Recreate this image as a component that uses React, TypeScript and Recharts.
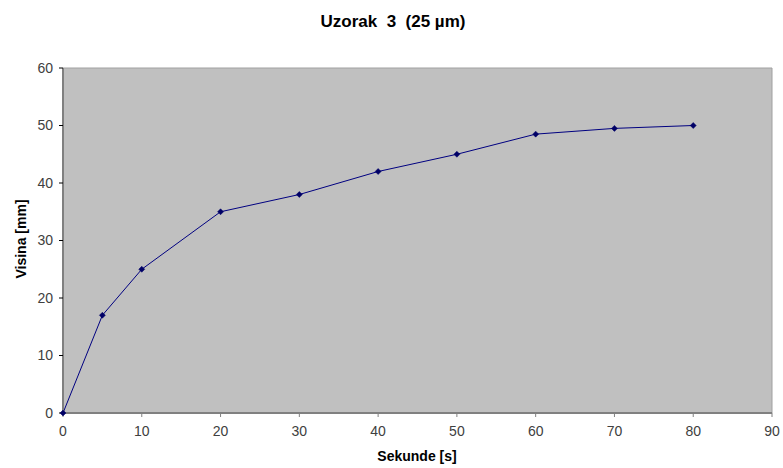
import { Line, LineChart, ReferenceArea, XAxis, YAxis } from "recharts";

const seconds = [0, 5, 10, 20, 30, 40, 50, 60, 70, 80];
const heights = [0, 17, 25, 35, 38, 42, 45, 48.5, 49.5, 50];
const xTicks = [0, 10, 20, 30, 40, 50, 60, 70, 80, 90];
const yTicks = [0, 10, 20, 30, 40, 50, 60];

const data = seconds.map((s, i) => ({ s, h: heights[i] }));

const font = "'Liberation Sans', Arial, sans-serif";
const axisColor = "#808080";
const tickStyle = { fill: "#404040", fontSize: 14, fontFamily: font };

const Diamond = (props: any) => {
  const { cx, cy, index } = props;
  if (cx == null || cy == null) return null;
  const r = 3;
  return (
    <polygon
      key={index}
      points={`${cx},${cy - r} ${cx + r},${cy} ${cx},${cy + r} ${cx - r},${cy}`}
      fill="#000066"
      stroke="#000066"
      strokeWidth={0.5}
    />
  );
};

export default function App() {
  return (
    <div style={{ position: "absolute", left: 0, top: 0, width: 783, height: 468, background: "#fff" }}>
      <div
        style={{
          position: "absolute",
          left: 0,
          top: 12,
          width: 786,
          textAlign: "center",
          fontFamily: font,
          fontWeight: "bold",
          fontSize: 17,
          color: "#000",
          whiteSpace: "pre",
        }}
      >
        {"Uzorak  3  (25 µm)"}
      </div>
      <div
        style={{
          position: "absolute",
          left: 21,
          top: 239,
          transform: "translate(-50%, -50%) rotate(-90deg)",
          fontFamily: font,
          fontWeight: "bold",
          fontSize: 14,
          color: "#000",
          whiteSpace: "nowrap",
        }}
      >
        Visina [mm]
      </div>
      <div
        style={{
          position: "absolute",
          left: 417,
          top: 456,
          transform: "translate(-50%, -50%)",
          fontFamily: font,
          fontWeight: "bold",
          fontSize: 14,
          color: "#000",
          whiteSpace: "nowrap",
        }}
      >
        Sekunde [s]
      </div>
      <LineChart
        width={783}
        height={468}
        data={data}
        margin={{ top: 68, right: 11, left: 13, bottom: 25 }}
        style={{ position: "absolute", left: 0, top: 0 }}
      >
        <ReferenceArea x1={0} x2={90} y1={0} y2={60} fill="#c0c0c0" fillOpacity={1} stroke="#a0a0a0" />
        <XAxis
          type="number"
          dataKey="s"
          domain={[0, 90]}
          ticks={xTicks}
          interval={0}
          height={30}
          tickSize={4}
          tickMargin={9}
          stroke={axisColor}
          strokeWidth={2}
          tick={tickStyle}
          tickLine={{ stroke: axisColor, strokeWidth: 1 }}
        />
        <YAxis
          type="number"
          dataKey="h"
          domain={[0, 60]}
          ticks={yTicks}
          interval={0}
          width={50}
          tickSize={4}
          tickMargin={6}
          stroke={axisColor}
          strokeWidth={2}
          tick={tickStyle}
          tickLine={{ stroke: "#000", strokeWidth: 1 }}
        />
        <Line
          type="linear"
          dataKey="h"
          stroke="#000080"
          strokeWidth={1}
          dot={Diamond}
          activeDot={false}
          isAnimationActive={false}
        />
      </LineChart>
    </div>
  );
}
